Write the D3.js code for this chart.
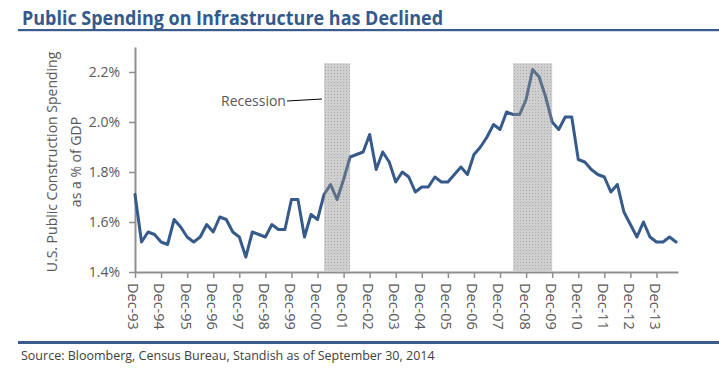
<!DOCTYPE html>
<html>
<head>
<meta charset="utf-8">
<script src="https://cdn.jsdelivr.net/npm/d3@7"></script>
<style>
  html, body { margin: 0; padding: 0; background: #fff; }
  svg { display: block; font-family: "Open Sans", "DejaVu Sans", sans-serif; }
</style>
</head>
<body>
<svg id="chart" width="719" height="386"></svg>
<script>
// ---- Data (quarterly, Dec-93 .. Sep-14) ----
const values = [
  1.71, 1.52, 1.56, 1.55, 1.52, 1.51, 1.61, 1.58, 1.54, 1.52,
  1.54, 1.59, 1.56, 1.62, 1.61, 1.56, 1.54, 1.46, 1.56, 1.55,
  1.54, 1.59, 1.57, 1.57, 1.69, 1.69, 1.54, 1.63, 1.61, 1.71,
  1.75, 1.69, 1.77, 1.86, 1.87, 1.88, 1.95, 1.81, 1.88, 1.84,
  1.76, 1.80, 1.78, 1.72, 1.74, 1.74, 1.78, 1.76, 1.76, 1.79,
  1.82, 1.79, 1.87, 1.90, 1.94, 1.99, 1.97, 2.04, 2.03, 2.03,
  2.09, 2.21, 2.18, 2.10, 2.00, 1.97, 2.02, 2.02, 1.85, 1.84,
  1.81, 1.79, 1.78, 1.72, 1.75, 1.64, 1.59, 1.54, 1.60, 1.54,
  1.52, 1.52, 1.54, 1.52
];
const xTickLabels = ["Dec-93","Dec-94","Dec-95","Dec-96","Dec-97","Dec-98","Dec-99",
  "Dec-00","Dec-01","Dec-02","Dec-03","Dec-04","Dec-05","Dec-06","Dec-07","Dec-08",
  "Dec-09","Dec-10","Dec-11","Dec-12","Dec-13"];
const yTicks = [1.4, 1.6, 1.8, 2.0, 2.2];
// recession bands: start/end quarter index, top value
const recessionStart = [29, 58];
const recessionEnd = [33, 64];
const recessionTop = 2.235;

const title = "Public Spending on Infrastructure has Declined";
const yTitle = ["U.S. Public Construction Spending", "as a % of GDP"];
const source = "Source: Bloomberg, Census Bureau, Standish as of September 30, 2014";

// ---- Layout ----
const svg = d3.select("#chart");
const x = d3.scaleLinear().domain([0, 83.3]).range([135, 678]);
const y = d3.scaleLinear().domain([1.4, 2.3]).range([272, 47]);

const blue = "#365b8b";
const axisColor = "#8f8f8f";
const textColor = "#595959";

// pattern for recession bands
const defs = svg.append("defs");
const pat = defs.append("pattern").attr("id", "dots")
  .attr("width", 3).attr("height", 3).attr("patternUnits", "userSpaceOnUse");
pat.append("rect").attr("width", 3).attr("height", 3).attr("fill", "rgb(140,140,140)").attr("fill-opacity", 0.42);
pat.append("rect").attr("x", 1).attr("y", 1).attr("width", 1).attr("height", 1)
  .attr("fill", "rgb(110,110,110)").attr("fill-opacity", 0.35);

// Title
const t = svg.append("text").attr("x", 22).attr("y", 25)
  .attr("font-size", 19).attr("font-weight", "bold").attr("fill", "#34598c")
  .text(title);
t.attr("textLength", 421).attr("lengthAdjust", "spacingAndGlyphs");
svg.append("rect").attr("x", 18).attr("y", 29).attr("width", 701).attr("height", 2.2).attr("fill", "#3a5d8d");

// Bottom rule and source
svg.append("rect").attr("x", 18).attr("y", 341).attr("width", 701).attr("height", 3).attr("fill", "#3a5d8d");
svg.append("text").attr("x", 21).attr("y", 360).attr("font-size", 12.5).attr("fill", "#404040").text(source);

// Y axis
const yAxis = d3.axisLeft(y).tickValues(yTicks).tickSize(6).tickSizeOuter(0)
  .tickFormat(d => d.toFixed(1) + "%");
const gy = svg.append("g").attr("transform", "translate(135,0)").call(yAxis);
gy.select(".domain").attr("stroke", axisColor).attr("stroke-width", 2);
gy.selectAll(".tick line").attr("stroke", axisColor).attr("stroke-width", 1.5);
gy.selectAll(".tick text").attr("x", -15).attr("fill", textColor)
  .attr("font-size", 14).attr("font-family", "Open Sans, sans-serif");

// X axis
const xTickIdx = xTickLabels.map((d, i) => i * 4);
const xAxis = d3.axisBottom(x).tickValues(xTickIdx).tickSize(6).tickSizeOuter(0)
  .tickFormat((d, i) => xTickLabels[i]);
const gx = svg.append("g").attr("transform", "translate(0,272)").call(xAxis);
gx.select(".domain").attr("stroke", axisColor).attr("stroke-width", 2);
gx.selectAll(".tick line").attr("stroke", axisColor).attr("stroke-width", 1.5);
gx.selectAll(".tick text")
  .attr("transform", "rotate(90)")
  .attr("x", 11).attr("y", 2).attr("dy", "0.35em")
  .attr("text-anchor", "start")
  .attr("fill", textColor).attr("font-size", 14.5).attr("font-family", "Open Sans, sans-serif");

// Line
const line = d3.line().x((d, i) => x(i)).y(d => y(d));
svg.append("path").datum(values).attr("d", line)
  .attr("fill", "none").attr("stroke", blue).attr("stroke-width", 3)
  .attr("stroke-linejoin", "round").attr("stroke-linecap", "round");

// Recession bands (on top of the line)
svg.append("g").selectAll("rect").data(recessionStart).join("rect")
  .attr("x", d => x(d))
  .attr("width", (d, i) => x(recessionEnd[i]) - x(d))
  .attr("y", y(recessionTop))
  .attr("height", y(1.4) - y(recessionTop) - 1)
  .attr("fill", "url(#dots)");

// Recession annotation
svg.append("text").attr("x", 221).attr("y", 106).attr("font-size", 14).attr("fill", textColor).text("Recession");
svg.append("line").attr("x1", 287).attr("y1", 101).attr("x2", 322).attr("y2", 99)
  .attr("stroke", "#000").attr("stroke-width", 1);

// Y axis title
const yt = svg.append("text").attr("transform", "translate(64,162) rotate(-90)")
  .attr("text-anchor", "middle").attr("font-size", 14).attr("fill", textColor);
yt.append("tspan").attr("x", 0).attr("y", -7).text(yTitle[0]);
yt.append("tspan").attr("x", 0).attr("y", 17).text(yTitle[1]);
</script>
</body>
</html>
